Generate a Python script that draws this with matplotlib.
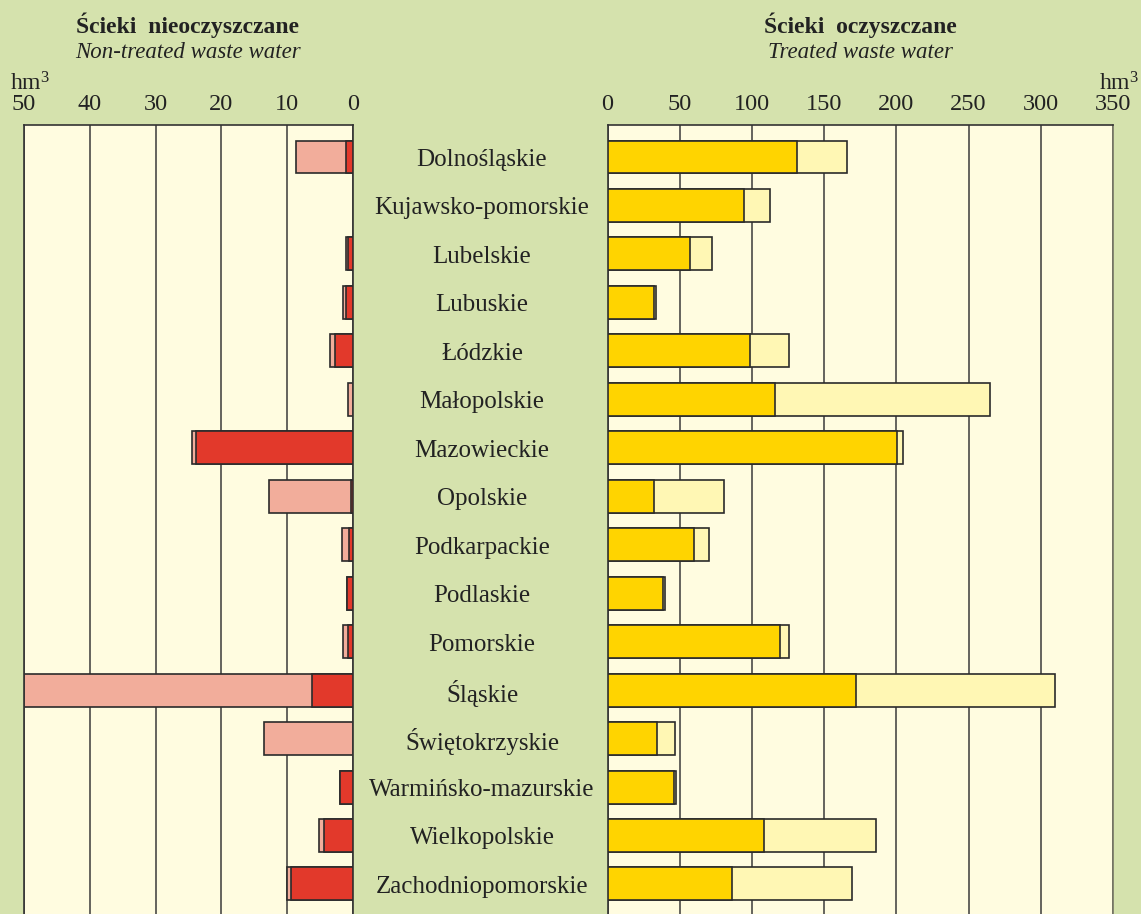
import matplotlib
matplotlib.use("Agg")
import matplotlib.pyplot as plt
import matplotlib.transforms as mtransforms

plt.rcParams['font.family'] = ['Liberation Serif', 'DejaVu Serif']
plt.rcParams['mathtext.fontset'] = 'custom'
plt.rcParams['mathtext.rm'] = 'Liberation Serif'
plt.rcParams['mathtext.it'] = 'Liberation Serif:italic'

categories = ["Dolnośląskie", "Kujawsko-pomorskie", "Lubelskie", "Lubuskie", "Łódzkie",
              "Małopolskie", "Mazowieckie", "Opolskie", "Podkarpackie", "Podlaskie",
              "Pomorskie", "Śląskie", "Świętokrzyskie", "Warmińsko-mazurskie",
              "Wielkopolskie", "Zachodniopomorskie"]

untreated_total = [8.6, 0.0, 1.1, 1.45, 3.45, 0.76, 24.4, 12.8, 1.6, 0.96, 1.47, 50.0, 13.6, 2.0, 5.1, 10.1]
untreated_inner = [1.06, 0.0, 0.7, 1.1, 2.74, 0.0, 23.8, 0.26, 0.66, 0.96, 0.8, 6.18, 0.0, 2.0, 4.4, 9.4]

treated_total = [165.7, 112.3, 72.1, 33.8, 125.5, 264.7, 204.6, 80.9, 70.1, 40.0, 125.5, 309.9, 46.7, 47.3, 186.0, 169.4]
treated_inner = [131.2, 94.5, 56.9, 32.4, 98.9, 115.8, 200.7, 32.4, 60.1, 38.6, 119.2, 171.9, 34.3, 46.3, 108.4, 85.9]

left_ticks = [50, 40, 30, 20, 10, 0]
right_ticks = [0, 50, 100, 150, 200, 250, 300, 350]

BG = '#d5e2ad'
PANEL = '#fffce0'
EDGE = '#2b2b2b'
TXT = '#222222'

W, H = 1141, 914
fig = plt.figure(figsize=(W / 100, H / 100), dpi=100, facecolor=BG)

top_px = 125
axL = fig.add_axes([24 / W, 0, (353 - 24) / W, (H - top_px) / H])
axR = fig.add_axes([607.5 / W, 0, (1113 - 607.5) / W, (H - top_px) / H])

y = list(range(len(categories)))
bh = 0.68

for ax in (axL, axR):
    ax.set_facecolor(PANEL)
    ax.set_ylim(15.62, -0.66)
    ax.set_yticks([])
    ax.set_axisbelow(True)
    ax.xaxis.tick_top()
    ax.tick_params(axis='x', length=0, pad=7, labelsize=17.5, colors=TXT)
    ax.grid(axis='x', color='#3a3a3a', linewidth=1.1)
    ax.spines['bottom'].set_visible(False)
    for s in ('top', 'left', 'right'):
        ax.spines[s].set_color('#333333')
        ax.spines[s].set_linewidth(1.2)

axL.set_xlim(50, 0)
axL.set_xticks(left_ticks)
axR.set_xlim(0, 350)
axR.set_xticks(right_ticks)
axR.spines['right'].set_color('#777766')

# left panel bars
for yi, tot, inn in zip(y, untreated_total, untreated_inner):
    if tot > 0:
        axL.barh(yi, tot, height=bh, color='#f2ad9b', edgecolor=EDGE, linewidth=1.2, zorder=2)
    if inn > 0:
        axL.barh(yi, inn, height=bh, color='#e2392b', edgecolor=EDGE, linewidth=1.2, zorder=3)

# right panel bars
for yi, tot, inn in zip(y, treated_total, treated_inner):
    axR.barh(yi, tot, height=bh, color='#fff7b4', edgecolor=EDGE, linewidth=1.2, zorder=2)
    axR.barh(yi, inn, height=bh, color='#ffd400', edgecolor=EDGE, linewidth=1.2, zorder=3)

# category labels in the middle
trans = mtransforms.blended_transform_factory(fig.transFigure, axL.transData)
offset = mtransforms.ScaledTranslation(0, -3 / 100, fig.dpi_scale_trans)
for yi, name in zip(y, categories):
    fig.text(482 / W, yi, name, transform=trans + offset, ha='center', va='center',
             fontsize=18, color=TXT)

# titles
fig.text(188 / W, 1 - 25 / H, "Ścieki  nieoczyszczane", ha='center', va='center',
         fontsize=17, fontweight='bold', color=TXT)
fig.text(188 / W, 1 - 52 / H, "Non-treated waste water", ha='center', va='center',
         fontsize=16.5, style='italic', color=TXT)
fig.text(860 / W, 1 - 25 / H, "Ścieki  oczyszczane", ha='center', va='center',
         fontsize=17, fontweight='bold', color=TXT)
fig.text(860 / W, 1 - 52 / H, "Treated waste water", ha='center', va='center',
         fontsize=16.5, style='italic', color=TXT)

# units
fig.text(10 / W, 1 - 84 / H, r"hm$^{\mathit{3}}$", ha='left', va='center',
         fontsize=17, color=TXT)
fig.text(1139 / W, 1 - 84 / H, r"hm$^{\mathit{3}}$", ha='right', va='center',
         fontsize=17, color=TXT)

fig.savefig("out.png", dpi=100, facecolor=BG)
